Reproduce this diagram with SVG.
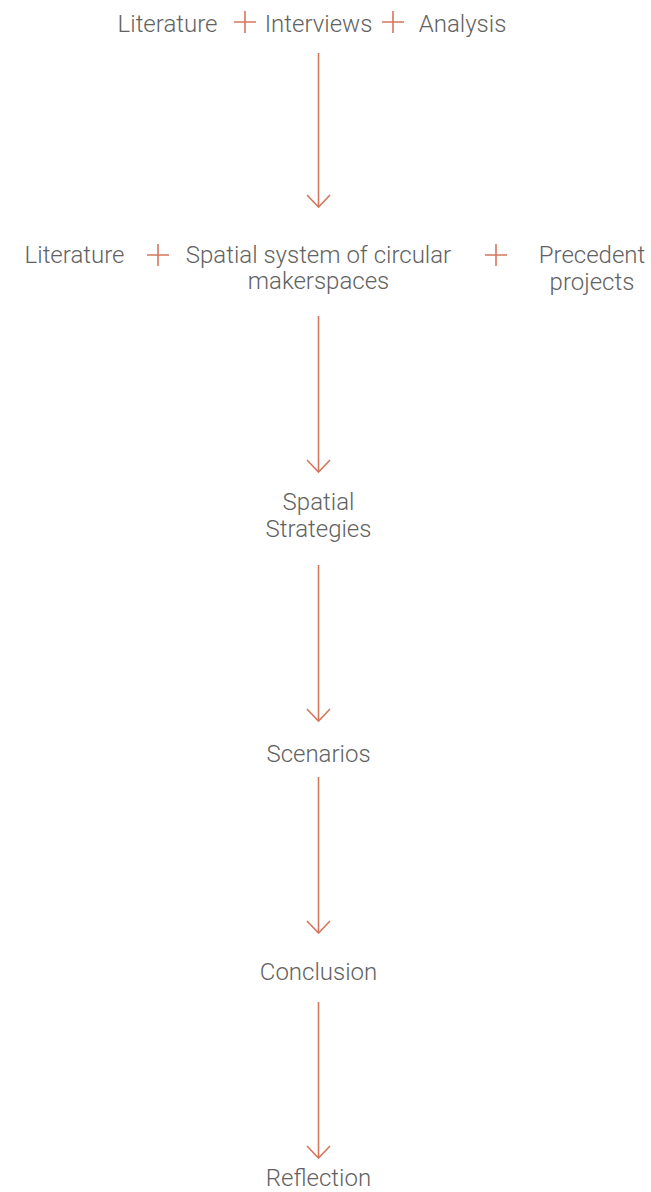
<svg xmlns="http://www.w3.org/2000/svg" width="651" height="1192" viewBox="0 0 651 1192">
<style>
text{font-family:Roboto,"Liberation Sans",sans-serif;font-weight:300;font-size:24px;fill:#626262;text-anchor:middle}
.c{stroke:#d4775e;stroke-width:1.6;fill:none}
.p{stroke:#d4775e;stroke-width:1.6;fill:none}
</style>
<rect width="651" height="1192" fill="#fff"/>
<g id="connectors">
<path class="c" d="M318.5 53 V207"/>
<path class="c" d="M307 195 L318.5 207 L330 195"/>
<path class="c" d="M318.5 316 V472"/>
<path class="c" d="M307 460 L318.5 472 L330 460"/>
<path class="c" d="M318.5 565 V721"/>
<path class="c" d="M307 709 L318.5 721 L330 709"/>
<path class="c" d="M318.5 777 V933"/>
<path class="c" d="M307 921 L318.5 933 L330 921"/>
<path class="c" d="M318.5 1002 V1158"/>
<path class="c" d="M307 1146 L318.5 1158 L330 1146"/>
</g>
<g id="row1">
<text x="167.5" y="32">Literature</text>
<path class="p" d="M234 22 H256 M245 11 V33"/>
<text x="318.5" y="32">Interviews</text>
<path class="p" d="M382 22 H404 M393 11 V33"/>
<text x="462.5" y="32">Analysis</text>
</g>
<g id="row2">
<text x="74.5" y="262.5">Literature</text>
<path class="p" d="M147 255 H169 M158 244 V266"/>
<text x="318.5" y="262.5">Spatial system of circular</text>
<text x="318.5" y="289">makerspaces</text>
<path class="p" d="M485 255 H507 M496 244 V266"/>
<text x="592" y="262.5">Precedent</text>
<text x="592" y="290">projects</text>
</g>
<g id="n-strategies">
<text x="318.5" y="510">Spatial</text>
<text x="318.5" y="537">Strategies</text>
</g>
<g id="n-scenarios"><text x="318.5" y="762">Scenarios</text></g>
<g id="n-conclusion"><text x="318.5" y="979.5">Conclusion</text></g>
<g id="n-reflection"><text x="318.5" y="1186">Reflection</text></g>
</svg>
